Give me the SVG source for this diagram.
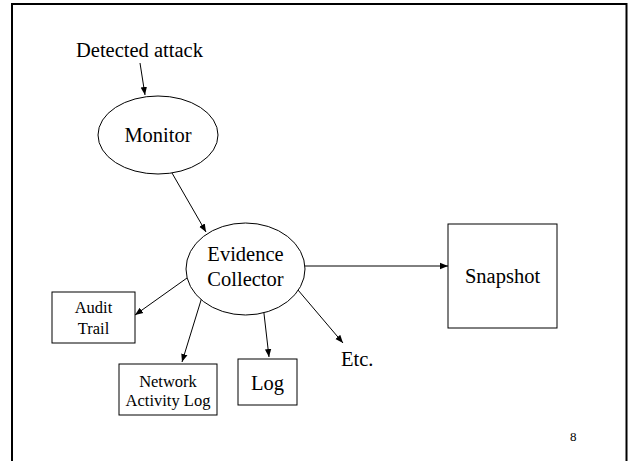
<svg xmlns="http://www.w3.org/2000/svg" width="629" height="461" viewBox="0 0 629 461">
<style>
text{font-family:"Liberation Serif","Times New Roman",serif;fill:#000}
.n{fill:#fff;stroke:#000;stroke-width:1}
.c{stroke:#000;stroke-width:1;fill:none;marker-end:url(#a)}
.l{font-size:20.5px}
.s{font-size:16.5px}
</style>
<defs>
<marker id="a" viewBox="0 0 10 10" refX="10" refY="5" markerWidth="8" markerHeight="8" markerUnits="userSpaceOnUse" orient="auto">
<path d="M0,1 L10,5 L0,9 z" fill="#000"/>
</marker>
</defs>
<rect x="0" y="0" width="629" height="461" fill="#fff"/>
<rect x="12" y="4" width="614.5" height="462" fill="none" stroke="#000" stroke-width="2"/>
<g id="connectors">
<line class="c" x1="140" y1="63" x2="145" y2="95"/>
<line class="c" x1="172" y1="173" x2="206" y2="232"/>
<line class="c" x1="305" y1="266" x2="448" y2="266"/>
<line class="c" x1="187" y1="278" x2="135" y2="315"/>
<line class="c" x1="202" y1="297" x2="182" y2="362"/>
<line class="c" x1="263" y1="305" x2="269" y2="357"/>
<line class="c" x1="298" y1="290" x2="343" y2="343"/>
</g>
<g id="detected"><text class="l" x="76" y="57">Detected attack</text></g>
<g id="monitor"><ellipse class="n" cx="158" cy="135" rx="60" ry="39"/><text class="l" x="158" y="142" text-anchor="middle">Monitor</text></g>
<g id="evidence"><ellipse class="n" cx="245.5" cy="269" rx="59.5" ry="46"/><text class="l" x="245.5" y="261" text-anchor="middle">Evidence</text><text class="l" x="245.5" y="286" text-anchor="middle">Collector</text></g>
<g id="snapshot"><rect class="n" x="448" y="224" width="109" height="104"/><text class="l" x="502.5" y="283" text-anchor="middle">Snapshot</text></g>
<g id="audit"><rect class="n" x="52" y="292" width="83" height="51"/><text class="s" x="93.5" y="313" text-anchor="middle">Audit</text><text class="s" x="93.5" y="334" text-anchor="middle">Trail</text></g>
<g id="network"><rect class="n" x="119" y="364" width="98" height="51"/><text class="s" x="168" y="387" text-anchor="middle">Network</text><text class="s" x="168" y="406" text-anchor="middle">Activity Log</text></g>
<g id="log"><rect class="n" x="238" y="359" width="59" height="46"/><text class="l" x="267.5" y="390" text-anchor="middle">Log</text></g>
<g id="etc"><text class="l" x="341" y="366">Etc.</text></g>
<g id="page"><text x="570" y="441" style="font-size:13px">8</text></g>
</svg>
